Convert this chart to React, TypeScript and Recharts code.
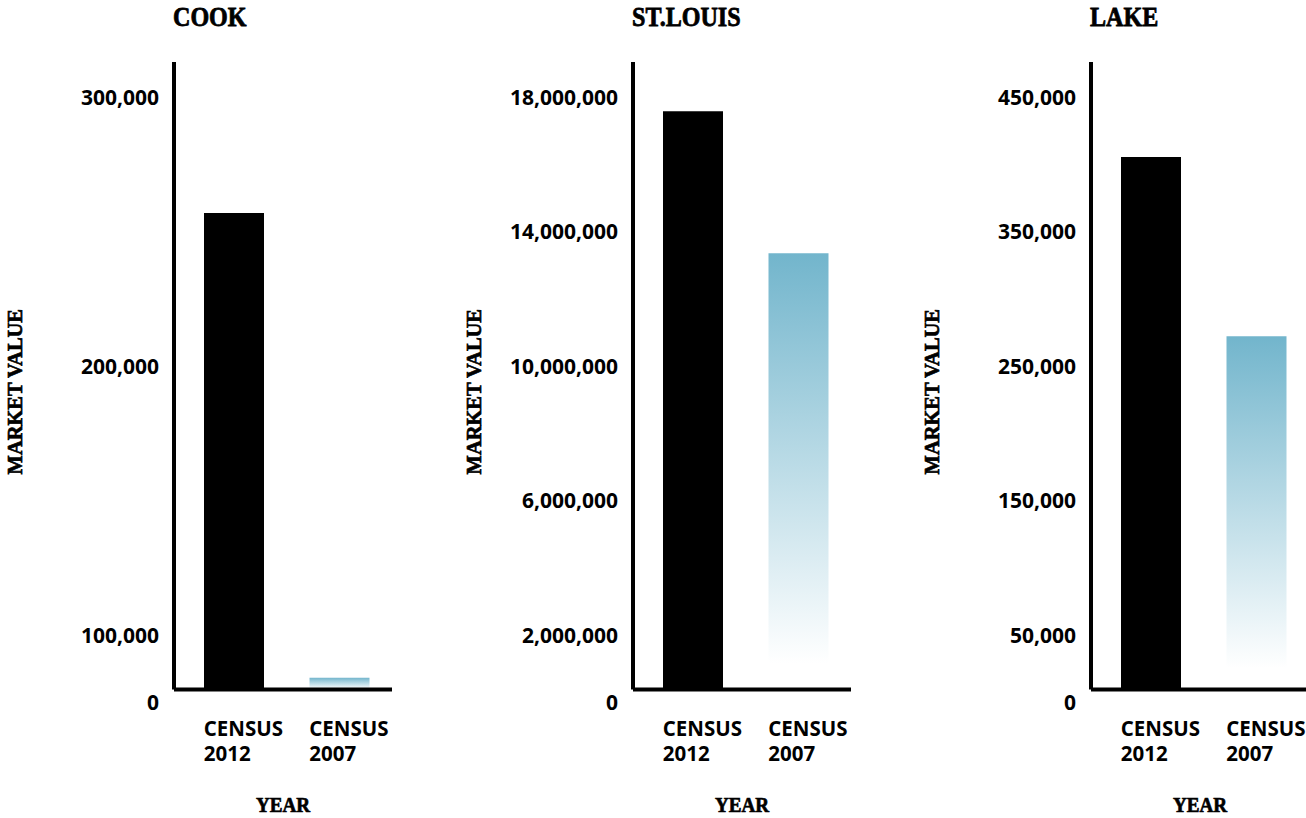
import React from 'react';
import { BarChart, Bar, XAxis, YAxis, Cell, Label } from 'recharts';

// categories + values
const categories = ['CENSUS 2012', 'CENSUS 2007'];
const cookValues = [256900, 84400];
const stLouisValues = [17580000, 13360000];
const lakeValues = [405400, 272300];

const cookTicks = [80000, 100000, 200000, 300000];
const stLouisTicks = [394000, 2000000, 6000000, 10000000, 14000000, 18000000];
const lakeTicks = [9850, 50000, 150000, 250000, 350000, 450000];

const cookDomain = [80000, 313000];
const stLouisDomain = [394000, 19040000];
const lakeDomain = [9850, 476000];

const barColors = ['#000000', 'url(#censusFade)'];

const SANS = "'Open Sans', 'Noto Sans', sans-serif";
const SLAB = "'Liberation Serif', serif";

function YTick(props: any) {
  const { x, y, payload, base } = props;
  const isBase = payload.value === base;
  return (
    <text
      x={x}
      y={isBase ? y + 13 : y}
      dy="0.36em"
      textAnchor="end"
      fontFamily={SANS}
      fontWeight={700}
      fontSize={21}
      fill="#000"
    >
      {isBase ? '0' : Number(payload.value).toLocaleString('en-US')}
    </text>
  );
}

function XTick(props: any) {
  const { x, y, payload } = props;
  const [word, year] = String(payload.value).split(' ');
  return (
    <g>
      <text x={x - 30} y={y + 46} textAnchor="start" fontFamily={SANS} fontWeight={700} fontSize={20.5} fill="#000">
        {word}
      </text>
      <text x={x - 30} y={y + 71} textAnchor="start" fontFamily={SANS} fontWeight={700} fontSize={20.5} fill="#000">
        {year}
      </text>
    </g>
  );
}

// heavy, slightly condensed serif label
function SlabText({ x, y, rotate = 0, size, squeeze = 0.87, children }: any) {
  return (
    <text
      transform={`translate(${x} ${y}) rotate(${rotate}) scale(${squeeze} 1)`}
      textAnchor="middle"
      fontFamily={SLAB}
      fontWeight={700}
      fontSize={size}
      stroke="#000"
      strokeWidth={0.7}
      fill="#000"
    >
      {children}
    </text>
  );
}

interface PanelProps {
  title: string;
  values: number[];
  domain: number[];
  ticks: number[];
  left: number;
}

function Panel({ title, values, domain, ticks, left }: PanelProps) {
  const data = categories.map((c, i) => ({ year: c, value: values[i] }));
  return (
    <div style={{ position: 'absolute', left, top: 0, width: 459, height: 818 }}>
      <div
        style={{
          position: 'absolute',
          left: 173,
          top: 2,
          fontFamily: SLAB,
          fontWeight: 700,
          fontSize: 28,
          color: '#000',
          lineHeight: '30px',
          whiteSpace: 'nowrap',
          transform: 'scaleX(0.86)',
          transformOrigin: 'left top',
          WebkitTextStroke: '0.8px #000',
        }}
      >
        {title}
      </div>
      <BarChart width={459} height={818} data={data} margin={{ top: 62, right: 67, bottom: 0, left: 0 }}>
        <defs>
          <linearGradient id="censusFade" x1="0" y1="0" x2="0" y2="1">
            <stop offset="0%" stopColor="#72b5cc" stopOpacity={1} />
            <stop offset="94%" stopColor="#ffffff" stopOpacity={1} />
          </linearGradient>
        </defs>
        <XAxis
          dataKey="year"
          height={128.5}
          padding={{ left: 7, right: 0 }}
          axisLine={{ stroke: '#000', strokeWidth: 4 }}
          tickLine={false}
          tickSize={0}
          tickMargin={0}
          tick={<XTick />}
          interval={0}
        >
          <Label
            content={(p: any) => {
              const vb = p.viewBox;
              return (
                <SlabText x={vb.x + vb.width / 2} y={vb.y + 122.5} size={22}>
                  YEAR
                </SlabText>
              );
            }}
          />
        </XAxis>
        <YAxis
          width={174}
          type="number"
          domain={domain}
          ticks={ticks}
          allowDataOverflow
          interval={0}
          axisLine={{ stroke: '#000', strokeWidth: 4 }}
          tickLine={false}
          tickSize={0}
          tickMargin={15}
          tick={<YTick base={domain[0]} />}
        >
          <Label
            content={(p: any) => {
              const vb = p.viewBox;
              return (
                <SlabText x={vb.x + 22} y={vb.y + vb.height / 2 + 16} rotate={-90} size={22} squeeze={0.93}>
                  MARKET VALUE
                </SlabText>
              );
            }}
          />
        </YAxis>
        <Bar dataKey="value" barSize={60} isAnimationActive={false}>
          {data.map((d, i) => (
            <Cell key={d.year} fill={barColors[i]} />
          ))}
        </Bar>
      </BarChart>
    </div>
  );
}

export default function App() {
  return (
    <div
      style={{
        position: 'absolute',
        left: 0,
        top: 0,
        width: 1306,
        height: 818,
        overflow: 'hidden',
        background: '#fff',
      }}
    >
      <Panel title="COOK" values={cookValues} domain={cookDomain} ticks={cookTicks} left={0} />
      <Panel title="ST.LOUIS" values={stLouisValues} domain={stLouisDomain} ticks={stLouisTicks} left={459} />
      <Panel title="LAKE" values={lakeValues} domain={lakeDomain} ticks={lakeTicks} left={917} />
    </div>
  );
}
